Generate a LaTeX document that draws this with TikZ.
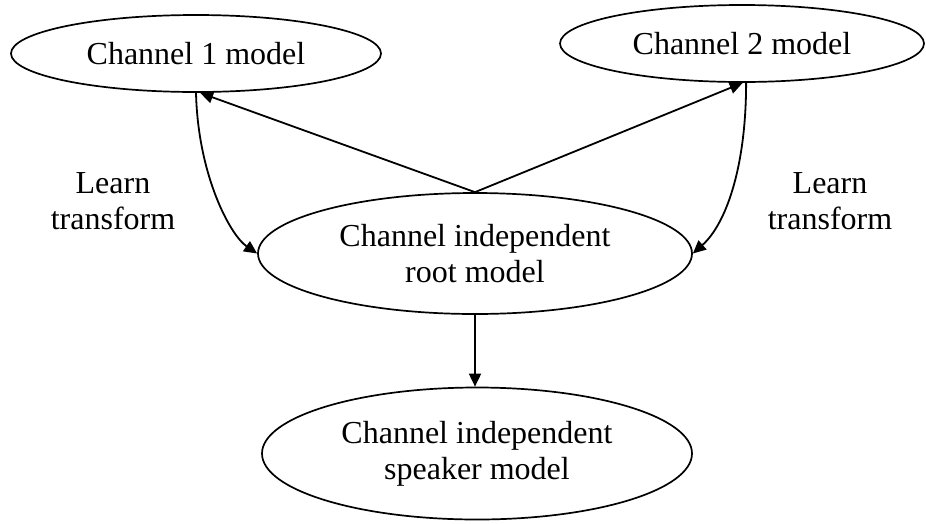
\documentclass[tikz,border=0pt]{standalone}
\usepackage{fontspec}
\setmainfont{Liberation Serif}
\usetikzlibrary{shapes.geometric,arrows.meta}
\begin{document}
\begin{tikzpicture}[x=1pt,y=-1pt,
  model/.style={draw,ellipse,line width=1.7pt,inner sep=0pt,align=center,
    font=\fontsize{32}{36}\selectfont},
  lbl/.style={inner sep=0pt,align=center,font=\fontsize{32}{36}\selectfont},
  link/.style={line width=1.8pt,-{Triangle[length=13pt,width=12pt]}}]
\useasboundingbox (0,0) rectangle (926,523);
% model nodes
\node[model,minimum width=370pt,minimum height=77pt] (c1) at (196,53.5) {Channel 1 model};
\node[model,minimum width=364pt,minimum height=77pt] (c2) at (742,43.5) {Channel 2 model};
\node[model,minimum width=434pt,minimum height=121pt] (root) at (475,253.5)
  {Channel independent\\root model};
\node[model,minimum width=430pt,minimum height=132pt] (spk) at (477,453.5)
  {Channel independent\\speaker model};
% transform labels
\node[lbl] (l1) at (113,201.5) {Learn\\transform};
\node[lbl] (l2) at (830,201.5) {Learn\\transform};
% connectors
\draw[link] (root.north) -- (c1.276);
\draw[link] (root.north) -- (c2.271);
\draw[link] (c1.south) .. controls (198,175) and (230,235) .. (root.west);
\draw[link] (c2.276) .. controls (746,170) and (725,225) .. (root.east);
\draw[link] (root.south) -- (root.south |- spk.north);
\end{tikzpicture}
\end{document}
